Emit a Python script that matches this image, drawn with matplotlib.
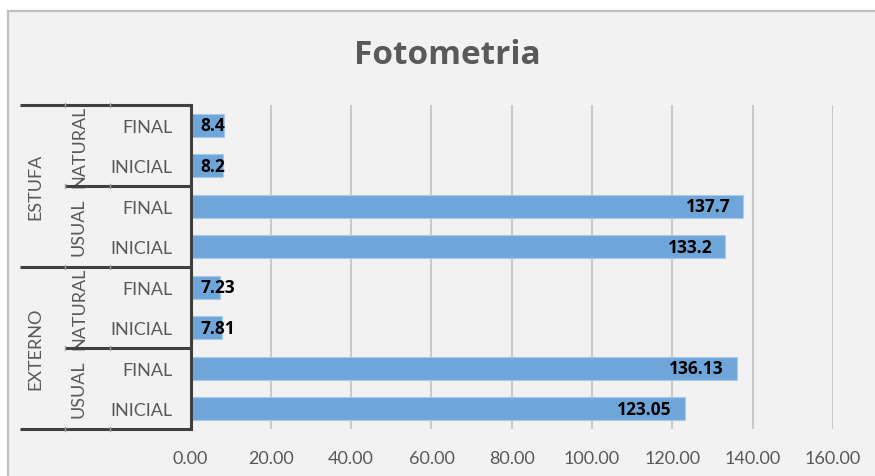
import matplotlib.pyplot as plt
from matplotlib.patches import Rectangle
from matplotlib.transforms import blended_transform_factory

plt.rcParams['font.family'] = ['Lato', 'DejaVu Sans']
negrito = ['Open Sans', 'DejaVu Sans']

# data, top to bottom as in the chart
lugar = ['ESTUFA', 'EXTERNO']
tipo = ['NATURAL', 'USUAL']
etapa = ['FINAL', 'INICIAL', 'FINAL', 'INICIAL', 'FINAL', 'INICIAL', 'FINAL', 'INICIAL']
valores = [8.4, 8.2, 137.7, 133.2, 7.23, 7.81, 136.13, 123.05]
rotulos = ['8.4', '8.2', '137.7', '133.2', '7.23', '7.81', '136.13', '123.05']
xticks = [0, 20, 40, 60, 80, 100, 120, 140, 160]

fig = plt.figure(figsize=(8.75, 4.77), dpi=100, facecolor='white')
# chart area background with thin border (left/top visible)
fig.patches.append(Rectangle((7.5 / 875, -0.02), 1.0, 0.02 + 1 - 11.5 / 477,
                             transform=fig.transFigure, facecolor='#F2F2F2',
                             edgecolor='#BFBFBF', linewidth=1.6, zorder=-1))

ax = fig.add_axes([190.5 / 875, (477 - 430) / 477, 642.5 / 875, 324 / 477])
ax.set_zorder(1)
ax.set_facecolor('#F2F2F2')

y = list(range(len(valores)))
ax.barh(y, valores, height=0.57, color='#6FA6DA', edgecolor='#A9CBEA', linewidth=0.8, zorder=2)
ax.set_xlim(0, 160)
ax.set_ylim(7.5, -0.5)

for yi, v, r in zip(y, valores, rotulos):
    if v > 20:
        ax.text(v - 3.3, yi, r, ha='right', va='center', fontsize=12.5, fontweight='bold',
                family=negrito, color='black', zorder=3)
    else:
        ax.text(2.5, yi, r, ha='left', va='center', fontsize=12.5, fontweight='bold',
                family=negrito, color='black', zorder=3)

ax.set_xticks(xticks)
ax.set_xticklabels(['%.2f' % t for t in xticks])
ax.set_yticks(y)
ax.set_yticklabels(etapa)
ax.tick_params(axis='both', length=0, labelsize=13, colors='#595959')
ax.tick_params(axis='y', pad=13)
ax.tick_params(axis='x', pad=15)
ax.xaxis.grid(True, color='#C9C9C9', linewidth=1.5, zorder=1)
ax.set_axisbelow(True)
for s in ['top', 'right', 'bottom']:
    ax.spines[s].set_visible(False)
ax.spines['left'].set_color('#404040')
ax.spines['left'].set_linewidth(2.2)
ax.spines['left'].set_zorder(4)

# multi-level category tree
tr = blended_transform_factory(ax.transAxes, ax.transData)
x_outer = (20 - 190.5) / 642.5
x_mid = (65 - 190.5) / 642.5
x_in = (110 - 190.5) / 642.5
linhas = [(-0.5, x_outer), (1.5, x_mid), (3.5, x_outer), (5.5, x_mid), (7.5, x_outer)]
for yl, x0 in linhas:
    ax.plot([x0, 0], [yl, yl], transform=tr, color='#404040', linewidth=2.2,
            clip_on=False, solid_capstyle='butt', zorder=4)
    for xt in [x_mid, x_in]:
        if xt >= x0:
            ax.plot([xt, xt], [yl - 0.06, yl + 0.06], transform=tr, color='#A0A0A0',
                    linewidth=1, clip_on=False, zorder=4)

for i, nome in enumerate(lugar):
    ax.text((35 - 190.5) / 642.5, 4 * i + 1.5, nome, transform=tr, rotation=90,
            ha='center', va='center', fontsize=13, color='#595959')
    for j, t in enumerate(tipo):
        ax.text((79 - 190.5) / 642.5, 4 * i + 2 * j + 0.5, t, transform=tr, rotation=90,
                ha='center', va='center', fontsize=13, color='#595959')

fig.text(447 / 875, 1 - 55 / 477, 'Fotometria', ha='center', va='center',
         fontsize=24, fontweight='bold', family=negrito, color='#595959')

fig.savefig('out.png', dpi=100, facecolor=fig.get_facecolor())
